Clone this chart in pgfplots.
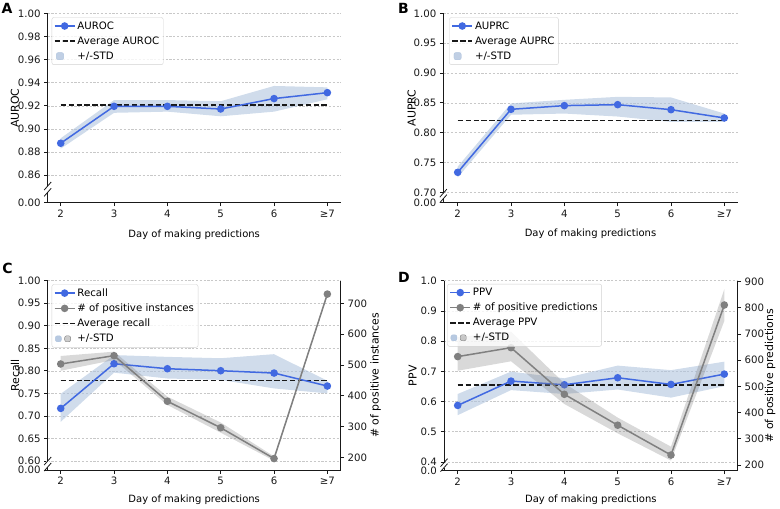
\documentclass[border=0pt]{standalone}
\usepackage{pgfplots}
\pgfplotsset{compat=1.18}
\usepackage{fontspec}
\setmainfont{DejaVu Sans}
\definecolor{rblue}{RGB}{65,105,225}
\definecolor{bandblue}{RGB}{176,196,222}
\definecolor{grayc}{RGB}{128,128,128}
\definecolor{gridc}{RGB}{200,200,200}
\definecolor{legc}{RGB}{210,210,210}
\newcommand\fs{\fontsize{10.2}{12}\selectfont}
\newcommand\fl{\fontsize{10.9}{13}\selectfont}
\newcommand\brk[2]{%
  \draw[white, line width=2.5pt] ([yshift=#2pt]rel axis cs:0,0) -- ([yshift=#1pt]rel axis cs:0,0);
  \draw[black!90, line width=0.8pt] ([xshift=-3.5pt,yshift={#1pt-4pt}]rel axis cs:0,0) -- ([xshift=3.5pt,yshift={#1pt+4pt}]rel axis cs:0,0);
  \draw[black!90, line width=0.8pt] ([xshift=-3.5pt,yshift={#2pt-4pt}]rel axis cs:0,0) -- ([xshift=3.5pt,yshift={#2pt+4pt}]rel axis cs:0,0);
}
\pgfplotsset{
  panel/.style={
    scale only axis,
    /pgf/number format/assume math mode=true,
    axis line style={line width=0.8pt, black!90},
    tick align=outside,
    major tick length=3.5pt,
    tick style={line width=0.8pt, black!90},
    tick label style={font=\fs, text=black!90},
    label style={font=\fl},
    clip=false,
    legend cell align=left,
    legend style={draw=legc, rounded corners=2pt, fill=white, fill opacity=0.8, text opacity=1,
      font=\fs, inner xsep=2pt, inner ysep=2pt, row sep=2pt, anchor=north west},
    legend image code/.code={\draw[mark repeat=2, mark phase=2, #1] plot coordinates {(0pt,0pt) (10pt,0pt) (20pt,0pt)};},
  },
  leftpanel/.style={panel,
    axis x line*=bottom, axis y line*=left,
    xtick={0,1,2,3,4,5},
    xticklabels={2,3,4,5,6,≥7},
    ymajorgrids,
    grid style={gridc, dash pattern=on 2.2pt off 1.6pt, line width=0.6pt},
    every axis x label/.style={at={(rel axis cs:0.5,0)}, anchor=center},
    xlabel={Day of making predictions},
  },
  rightpanel/.style={panel,
    axis x line=none, axis y line*=right,
  },
  bluel/.style={rblue, line width=1.5pt, mark=*, mark size=3pt, mark options={solid, fill=rblue, draw=rblue, fill opacity=1}},
  grayl/.style={grayc, line width=1.5pt, mark=*, mark size=3pt, mark options={solid, fill=grayc, draw=grayc, fill opacity=1}},
  avg/.style={black!90, line width=1.5pt, dash pattern=on 5.5pt off 2.4pt},
  bband/.style={fill=bandblue, fill opacity=0.6, draw=none, forget plot},
  gband/.style={fill=grayc, fill opacity=0.3, draw=none, forget plot},
}
\begin{document}
\begin{tikzpicture}
\path[use as bounding box] (0,0) rectangle (780pt,-509pt);

% ---------------- A ----------------
\begin{axis}[leftpanel, width=293pt, height=189.4pt, at={(47.7pt,-202.7pt)}, anchor=south west,
  xmin=-0.244, xmax=5.25, ymin=0.8363, ymax=1.0,
  ytick={0.8363,0.86,0.88,0.90,0.92,0.94,0.96,0.98,1.00},
  yticklabels={0.00,0.86,0.88,0.90,0.92,0.94,0.96,0.98,1.00},
  xlabel style={yshift=-31.6pt},
  legend style={at={(rel axis cs:0.0137,0.979)}}]
\addplot[bband] coordinates {(0,0.892) (1,0.925) (2,0.925) (3,0.924) (4,0.9372) (5,0.936)
  (5,0.9257) (4,0.915) (3,0.911) (2,0.915) (1,0.914) (0,0.883)} -- cycle;
\addplot[avg, forget plot] coordinates {(0,0.9208) (5,0.9208)};
\addplot[bluel, forget plot] coordinates {(0,0.8877) (1,0.9196) (2,0.9196) (3,0.9173) (4,0.9263) (5,0.9314)};
\addlegendimage{bluel}\addlegendentry{AUROC}
\addlegendimage{avg}\addlegendentry{Average AUROC}
\addlegendimage{legend image code/.code={\fill[bandblue, fill opacity=0.8] (1.7pt,-3.6pt) rectangle (9pt,3.6pt);}}\addlegendentry{+/-STD}
\brk{16.7}{10.4}
\end{axis}

% ---------------- B ----------------
\begin{axis}[leftpanel, width=294.4pt, height=189.4pt, at={(443.3pt,-202.7pt)}, anchor=south west,
  xmin=-0.27, xmax=5.251, ymin=0.6826, ymax=1.0,
  ytick={0.6826,0.70,0.75,0.80,0.85,0.90,0.95,1.00},
  yticklabels={0.00,0.70,0.75,0.80,0.85,0.90,0.95,1.00},
  xlabel style={yshift=-31.3pt},
  legend style={at={(rel axis cs:0.0204,0.979)}}]
\addplot[bband] coordinates {(0,0.743) (1,0.849) (2,0.855) (3,0.860) (4,0.859) (5,0.832)
  (5,0.818) (4,0.818) (3,0.827) (2,0.832) (1,0.830) (0,0.725)} -- cycle;
\addplot[avg, forget plot] coordinates {(0,0.8201) (5,0.8201)};
\addplot[bluel, forget plot] coordinates {(0,0.7335) (1,0.8391) (2,0.8453) (3,0.8469) (4,0.8385) (5,0.8246)};
\addlegendimage{bluel}\addlegendentry{AUPRC}
\addlegendimage{avg}\addlegendentry{Average AUPRC}
\addlegendimage{legend image code/.code={\fill[bandblue, fill opacity=0.8] (1.7pt,-3.6pt) rectangle (9pt,3.6pt);}}\addlegendentry{+/-STD}
\brk{9.5}{4}
\end{axis}

% ---------------- C ----------------
\begin{axis}[leftpanel, width=293pt, height=189.3pt, at={(47.7pt,-470pt)}, anchor=south west,
  xmin=-0.244, xmax=5.25, ymin=0.58, ymax=1.0,
  ytick={0.58,0.60,0.65,0.70,0.75,0.80,0.85,0.90,0.95,1.00},
  yticklabels={0.00,0.60,0.65,0.70,0.75,0.80,0.85,0.90,0.95,1.00},
  xlabel style={yshift=-30pt}]
\addplot[bband] coordinates {(0,0.749) (1,0.835) (2,0.831) (3,0.828) (4,0.837) (5,0.778)
  (5,0.750) (4,0.761) (3,0.780) (2,0.783) (1,0.796) (0,0.687)} -- cycle;
\addplot[avg, forget plot] coordinates {(0,0.7781) (5,0.7781)};
\addplot[bluel, forget plot] coordinates {(0,0.7167) (1,0.8158) (2,0.8047) (3,0.8003) (4,0.7951) (5,0.7663)};
\brk{9}{3}
\end{axis}
\begin{axis}[rightpanel, width=293pt, height=189.3pt, at={(47.7pt,-470pt)}, anchor=south west,
  xmin=-0.244, xmax=5.25, ymin=158.8, ymax=773.4,
  ytick={200,300,400,500,600,700}, yticklabels={200,300,400,500,600,700},
  legend style={at={(rel axis cs:0.0137,0.981)}}]
\addplot[gband] coordinates {(0,529) (1,543) (2,397) (3,313) (4,203) (5,735)
  (5,726) (4,189) (3,280) (2,370) (1,516) (0,481)} -- cycle;
\addplot[grayl, forget plot] coordinates {(0,503) (1,530) (2,382) (3,296) (4,196) (5,730)};
\addlegendimage{bluel}\addlegendentry{Recall}
\addlegendimage{grayl}\addlegendentry{\# of positive instances}
\addlegendimage{avg}\addlegendentry{Average recall}
\addlegendimage{legend image code/.code={\fill[bandblue, fill opacity=0.9] (0.7pt,-3pt) rectangle (6.7pt,3pt);\fill[grayc, fill opacity=0.4] (10pt,-3pt) rectangle (16pt,3pt);}}\addlegendentry{+/-STD}
\end{axis}

% ---------------- D ----------------
\begin{axis}[leftpanel, width=293.7pt, height=190pt, at={(444pt,-470.7pt)}, anchor=south west,
  xmin=-0.257, xmax=5.251, ymin=0.3712, ymax=1.0,
  ytick={0.3712,0.4,0.5,0.6,0.7,0.8,0.9,1.0},
  yticklabels={0.0,0.4,0.5,0.6,0.7,0.8,0.9,1.0},
  xlabel style={yshift=-29.3pt}]
\addplot[bband] coordinates {(0,0.625) (1,0.699) (2,0.677) (3,0.719) (4,0.704) (5,0.732)
  (5,0.651) (4,0.613) (3,0.640) (2,0.625) (1,0.638) (0,0.555)} -- cycle;
\addplot[avg, forget plot] coordinates {(0,0.6545) (5,0.6545)};
\addplot[bluel, forget plot] coordinates {(0,0.5872) (1,0.6678) (2,0.6556) (3,0.6788) (4,0.6567) (5,0.6909)};
\brk{8}{3}
\end{axis}
\begin{axis}[rightpanel, width=293.7pt, height=190pt, at={(444pt,-470.7pt)}, anchor=south west,
  xmin=-0.257, xmax=5.251, ymin=178.2, ymax=903.8,
  ytick={200,300,400,500,600,700,800,900}, yticklabels={200,300,400,500,600,700,800,900},
  legend style={at={(rel axis cs:0.0112,0.983)}}]
\addplot[gband] coordinates {(0,688) (1,709) (2,512) (3,381) (4,270) (5,871)
  (5,750) (4,217) (3,321) (2,433) (1,596) (0,560)} -- cycle;
\addplot[grayl, forget plot] coordinates {(0,614) (1,648) (2,470) (3,352) (4,238) (5,811)};
\addlegendimage{bluel}\addlegendentry{PPV}
\addlegendimage{grayl}\addlegendentry{\# of positive predictions}
\addlegendimage{avg}\addlegendentry{Average PPV}
\addlegendimage{legend image code/.code={\fill[bandblue, fill opacity=0.9] (0.7pt,-3pt) rectangle (6.7pt,3pt);\fill[grayc, fill opacity=0.4] (10pt,-3pt) rectangle (16pt,3pt);}}\addlegendentry{+/-STD}
\end{axis}

% axis labels (y)
\node[font=\fl, rotate=90] at (15pt,-108pt) {AUROC};
\node[font=\fl, rotate=90] at (411.7pt,-108pt) {AUPRC};
\node[font=\fl, rotate=90] at (15pt,-375.3pt) {Recall};
\node[font=\fl, rotate=90] at (412.7pt,-375.7pt) {PPV};
\node[font=\fl, rotate=90] at (375.7pt,-375.3pt) {\# of positive instances};
\node[font=\fl, rotate=90] at (770pt,-375.7pt) {\# of positive predictions};

% panel letters
\node[font=\fontsize{14}{16}\selectfont\bfseries] at (7pt,-8.5pt) {A};
\node[font=\fontsize{14}{16}\selectfont\bfseries] at (403.5pt,-8.3pt) {B};
\node[font=\fontsize{14}{16}\selectfont\bfseries] at (7.5pt,-268.5pt) {C};
\node[font=\fontsize{14}{16}\selectfont\bfseries] at (404pt,-277pt) {D};
\end{tikzpicture}
\end{document}
